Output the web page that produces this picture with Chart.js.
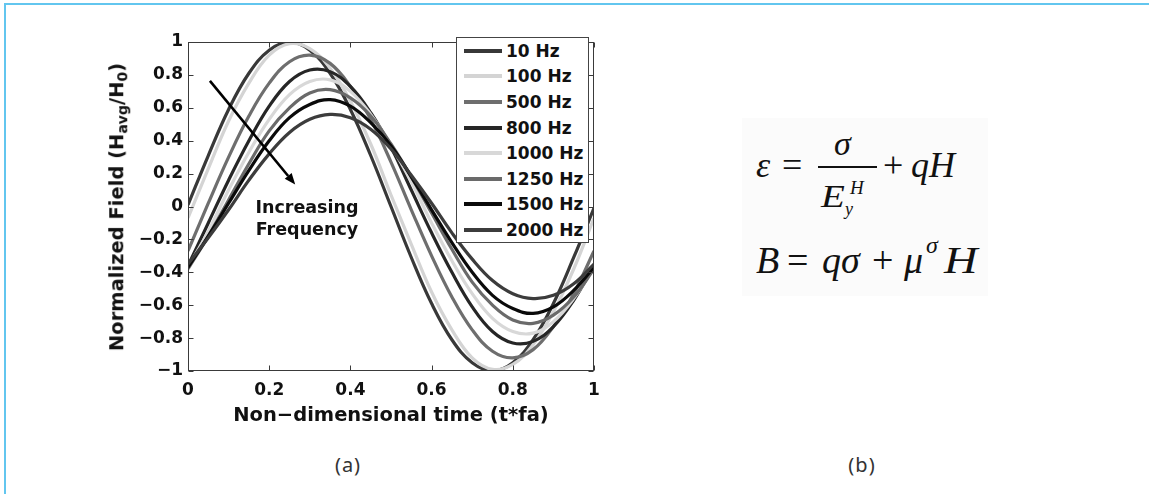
<!DOCTYPE html>
<html lang="en">
<head>
<meta charset="UTF-8">
<title>Normalized Field vs Non-dimensional time</title>
<script src="https://cdn.jsdelivr.net/npm/chart.js"></script>
<style>
    body {
        margin: 0;
        width: 1149px;
        height: 494px;
        overflow: hidden;
        position: relative;
        background: #fff;
        font-family: 'DejaVu Sans', sans-serif;
    }

    /* light blue page frame (top + left only) */
    .frame {
        position: absolute;
        left: 4px; top: 3px; right: 0; bottom: 0;
        border-top: 2px solid #62c6ef;
        border-left: 2px solid #62c6ef;
    }

    .chart-box {
        position: absolute;
        left: 110px; top: 20px;
        width: 500px; height: 420px;
    }

    #yTitle {
        position: absolute;
        left: 117px; top: 207px;
        transform: translate(-50%, -50%) rotate(-90deg);
        white-space: nowrap;
        font: bold 19.5px 'DejaVu Sans', sans-serif;
        line-height: 1;
        color: #111;
    }
    #yTitle sub { font-size: 72%; vertical-align: -0.3em; line-height: 0; }

    .note {
        position: absolute;
        left: 250px; top: 196px;
        width: 114px;
        text-align: center;
        font: bold 17.5px 'DejaVu Sans', sans-serif;
        line-height: 22px;
        color: #111;
    }

    .legend {
        position: absolute;
        left: 456px; top: 37px;
        width: 133px; height: 206px;
        box-sizing: border-box;
        background: #fff;
        border: 1px solid #444;
    }
    .legend-row { height: 25.6px; display: flex; align-items: center; }
    .legend-line { width: 38px; height: 4px; margin-left: 7px; margin-right: 4px; }
    .legend-text { font: bold 17px 'DejaVu Sans', sans-serif; color: #111; white-space: nowrap; }

    /* equations (b) */
    .eq-bg { position: absolute; left: 742px; top: 118px; width: 246px; height: 178px; background: #fbfbfb; }
    .m { position: absolute; font-family: 'Liberation Serif', 'Times New Roman', serif; line-height: 1; color: #111; white-space: nowrap; }
    .i { font-style: italic; }
    .wide { transform: scaleX(1.22); transform-origin: left center; }
    .bar { position: absolute; left: 818px; top: 166px; width: 59px; height: 1.6px; background: #111; }

    .caption {
        position: absolute;
        top: 455px;
        width: 60px;
        text-align: center;
        font: 20px 'Noto Sans', sans-serif;
        letter-spacing: 1px;
        line-height: 1;
        color: #333;
    }
</style>
</head>
<body>
    <div class="frame"></div>

    <div class="chart-box">
        <canvas id="fieldChart" width="500" height="420"></canvas>
    </div>
    <div id="yTitle">Normalized Field (H<sub>avg</sub>/H<sub>0</sub>)</div>
    <div class="note">Increasing<br>Frequency</div>
    <div class="legend" id="legend"></div>

    <div class="eq-bg"></div>
    <span class="m i" style="left:756px; top:146.9px; font-size:36px;">ε</span>
    <span class="m" style="left:782px; top:146.9px; font-size:36px;">=</span>
    <span class="m i" style="left:834px; top:126.5px; font-size:34px;">σ</span>
    <div class="bar"></div>
    <span class="m i wide" style="left:821px; top:180.2px; font-size:32px;">E</span>
    <span class="m i" style="left:850px; top:177.5px; font-size:19px;">H</span>
    <span class="m i" style="left:845px; top:199.9px; font-size:18px;">y</span>
    <span class="m" style="left:883px; top:146.9px; font-size:36px;">+</span>
    <span class="m i" style="left:911px; top:146.9px; font-size:36px;">qH</span>

    <span class="m i" style="left:756px; top:241.2px; font-size:38px;">B</span>
    <span class="m" style="left:787px; top:241.2px; font-size:38px;">=</span>
    <span class="m i" style="left:822px; top:241.2px; font-size:38px;">qσ</span>
    <span class="m" style="left:872px; top:241.2px; font-size:38px;">+</span>
    <span class="m i" style="left:904px; top:241.2px; font-size:38px;">μ</span>
    <span class="m i" style="left:926px; top:232.9px; font-size:24px;">σ</span>
    <span class="m i wide" style="left:944px; top:241.2px; font-size:38px;">H</span>

    <div class="caption" style="left:318px;">(a)</div>
    <div class="caption" style="left:832px;">(b)</div>

<script>
// non-dimensional time samples (t*fa)
const times = [0, 0.05, 0.1, 0.15, 0.2, 0.25, 0.3, 0.35, 0.4, 0.45, 0.5,
               0.55, 0.6, 0.65, 0.7, 0.75, 0.8, 0.85, 0.9, 0.95, 1];

const seriesLabels = ['10 Hz', '100 Hz', '500 Hz', '800 Hz', '1000 Hz', '1250 Hz', '1500 Hz', '2000 Hz'];

// normalized field H_avg/H_0
const field10Hz   = [0.01, 0.31, 0.59, 0.81, 0.95, 1.0, 0.95, 0.81, 0.59, 0.31, 0, -0.31, -0.59, -0.81, -0.95, -1.0, -0.95, -0.81, -0.59, -0.31, -0.01];
const field100Hz  = [-0.07, 0.23, 0.52, 0.75, 0.92, 0.99, 0.96, 0.84, 0.64, 0.38, 0.07, -0.23, -0.52, -0.75, -0.92, -0.99, -0.96, -0.84, -0.64, -0.38, -0.07];
const field500Hz  = [-0.27, 0.02, 0.30, 0.55, 0.75, 0.88, 0.92, 0.87, 0.73, 0.53, 0.27, -0.02, -0.30, -0.55, -0.75, -0.88, -0.92, -0.87, -0.73, -0.53, -0.27];
const field800Hz  = [-0.36, -0.10, 0.16, 0.40, 0.61, 0.76, 0.83, 0.82, 0.73, 0.57, 0.36, 0.10, -0.16, -0.40, -0.61, -0.76, -0.83, -0.82, -0.73, -0.57, -0.36];
const field1000Hz = [-0.37, -0.15, 0.10, 0.33, 0.53, 0.68, 0.76, 0.77, 0.70, 0.56, 0.37, 0.15, -0.10, -0.33, -0.53, -0.68, -0.76, -0.77, -0.70, -0.56, -0.37];
const field1250Hz = [-0.38, -0.18, 0.04, 0.26, 0.46, 0.60, 0.69, 0.71, 0.66, 0.55, 0.38, 0.18, -0.04, -0.26, -0.46, -0.60, -0.69, -0.71, -0.66, -0.55, -0.38];
const field1500Hz = [-0.37, -0.18, 0.02, 0.22, 0.40, 0.54, 0.62, 0.65, 0.61, 0.51, 0.37, 0.18, -0.02, -0.22, -0.40, -0.54, -0.62, -0.65, -0.61, -0.51, -0.37];
const field2000Hz = [-0.35, -0.19, -0.02, 0.16, 0.32, 0.45, 0.53, 0.56, 0.54, 0.47, 0.35, 0.19, 0.02, -0.16, -0.32, -0.45, -0.53, -0.56, -0.54, -0.47, -0.35];

const fieldSeries = [field10Hz, field100Hz, field500Hz, field800Hz, field1000Hz, field1250Hz, field1500Hz, field2000Hz];

const xTickValues = [0, 0.2, 0.4, 0.6, 0.8, 1];
const yTickValues = [-1, -0.8, -0.6, -0.4, -0.2, 0, 0.2, 0.4, 0.6, 0.8, 1];

// "Increasing Frequency" arrow, in data units
const arrowFrom = [0.054, 0.764];
const arrowTo = [0.264, 0.134];

const lineColors = ['#383838', '#d4d4d4', '#6e6e6e', '#262626', '#d8d8d8', '#6a6a6a', '#0a0a0a', '#3c3c3c'];

function fmtTick(v) {
    if (Math.abs(v) < 1e-9) return '0';
    const s = String(parseFloat(Math.abs(v).toFixed(1)));
    return (v < 0 ? '\u2212' : '') + s;
}

// MATLAB-ish box, inward ticks and the arrow
const matlabAxes = {
    id: 'matlabAxes',
    afterDatasetsDraw(chart) {
        const { ctx, chartArea: a, scales: { x, y } } = chart;
        const L = Math.round(a.left) + 0.5, R = Math.round(a.right) - 0.5;
        const T = Math.round(a.top) + 0.5, B = Math.round(a.bottom) - 0.5;
        ctx.save();
        ctx.strokeStyle = '#3a3a3a';
        ctx.lineWidth = 1;
        ctx.beginPath();
        xTickValues.forEach(v => {
            const px = Math.round(x.getPixelForValue(v)) + 0.5;
            ctx.moveTo(px, B); ctx.lineTo(px, B - 5);
            ctx.moveTo(px, T); ctx.lineTo(px, T + 5);
        });
        yTickValues.forEach(v => {
            const py = Math.round(y.getPixelForValue(v)) + 0.5;
            ctx.moveTo(L, py); ctx.lineTo(L + 5, py);
            ctx.moveTo(R, py); ctx.lineTo(R - 5, py);
        });
        ctx.stroke();
        ctx.strokeRect(L, T, R - L, B - T);

        // arrow
        const x0 = x.getPixelForValue(arrowFrom[0]), y0 = y.getPixelForValue(arrowFrom[1]);
        const x1 = x.getPixelForValue(arrowTo[0]), y1 = y.getPixelForValue(arrowTo[1]);
        const ang = Math.atan2(y1 - y0, x1 - x0);
        const head = 11, half = 4.5;
        ctx.strokeStyle = '#000';
        ctx.fillStyle = '#000';
        ctx.lineWidth = 2.6;
        ctx.beginPath();
        ctx.moveTo(x0, y0);
        ctx.lineTo(x1 - head * Math.cos(ang), y1 - head * Math.sin(ang));
        ctx.stroke();
        ctx.beginPath();
        ctx.moveTo(x1, y1);
        ctx.lineTo(x1 - head * Math.cos(ang) + half * Math.sin(ang), y1 - head * Math.sin(ang) - half * Math.cos(ang));
        ctx.lineTo(x1 - head * Math.cos(ang) - half * Math.sin(ang), y1 - head * Math.sin(ang) + half * Math.cos(ang));
        ctx.closePath();
        ctx.fill();
        ctx.restore();
    }
};

const tickFont = { family: 'DejaVu Sans', weight: 'bold', size: 17 };

new Chart(document.getElementById('fieldChart'), {
    type: 'line',
    data: {
        datasets: fieldSeries.map((vals, i) => ({
            label: seriesLabels[i],
            data: times.map((t, k) => ({ x: t, y: vals[k] })),
            borderColor: lineColors[i],
            order: seriesLabels.length - i
        }))
    },
    options: {
        responsive: false,
        animation: false,
        devicePixelRatio: 1,
        layout: { padding: { left: 0, right: 16, top: 22, bottom: 9 } },
        plugins: {
            legend: { display: false },
            tooltip: { enabled: false }
        },
        elements: {
            point: { radius: 0 },
            line: { borderWidth: 3.2, tension: 0.4, fill: false }
        },
        scales: {
            x: {
                type: 'linear',
                min: 0, max: 1,
                afterBuildTicks: s => { s.ticks = xTickValues.map(v => ({ value: v })); },
                afterFit: s => { s.height = 60; },
                grid: { display: false, drawTicks: false },
                border: { display: false },
                ticks: { font: tickFont, color: '#111', padding: 9, maxRotation: 0, autoSkip: false, callback: fmtTick },
                title: {
                    display: true,
                    text: 'Non\u2212dimensional time (t*fa)',
                    font: { family: 'DejaVu Sans', weight: 'bold', size: 19.5 },
                    color: '#111',
                    padding: { top: 2, bottom: 3 }
                }
            },
            y: {
                type: 'linear',
                min: -1, max: 1,
                afterBuildTicks: s => { s.ticks = yTickValues.map(v => ({ value: v })); },
                afterFit: s => { s.width = 78; },
                grid: { display: false, drawTicks: false },
                border: { display: false },
                ticks: { font: tickFont, color: '#111', padding: 5, autoSkip: false, callback: fmtTick }
            }
        }
    },
    plugins: [matlabAxes]
});

// legend box inside the axes, built from the series
const legendBox = document.getElementById('legend');
seriesLabels.forEach((label, i) => {
    const row = document.createElement('div');
    row.className = 'legend-row';
    row.innerHTML = '<span class="legend-line" style="background:' + lineColors[i] + '"></span>' +
                    '<span class="legend-text">' + label + '</span>';
    legendBox.appendChild(row);
});
</script>
</body>
</html>
